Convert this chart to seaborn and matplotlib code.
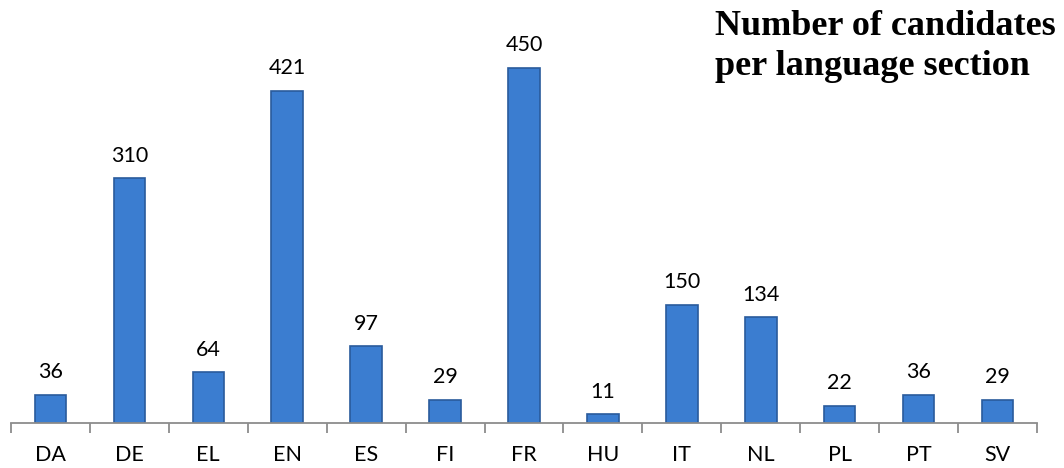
import matplotlib
matplotlib.use("Agg")
import matplotlib.pyplot as plt
import seaborn as sns
import pandas as pd
import numpy as np

# --- data ---
languages = ["DA", "DE", "EL", "EN", "ES", "FI", "FR", "HU", "IT", "NL", "PL", "PT", "SV"]
candidates = [36, 310, 64, 421, 97, 29, 450, 11, 150, 134, 22, 36, 29]
title_lines = ["Number of candidates", "per language section"]

df = pd.DataFrame({"language": languages, "candidates": candidates})

sns.set_style("white")
plt.rcParams["font.family"] = ["Lato", "DejaVu Sans"]
plt.rcParams["text.color"] = "black"
plt.rcParams["xtick.color"] = "black"

fig = plt.figure(figsize=(10.64, 4.68), dpi=100)
ax = fig.add_axes([11 / 1064, 45 / 468, 1026 / 1064, 423 / 468])

sns.barplot(data=df, x="language", y="candidates", color="#3b7dd0",
            width=0.40, edgecolor="#2a5b9c", linewidth=1.2, saturation=1, ax=ax)

# value labels above bars
for i, v in enumerate(candidates):
    ax.annotate(str(v), (i, v), xytext=(0, 12), textcoords="offset points",
                ha="center", va="baseline", fontsize=15.5, color="black")

ax.set_xlim(-0.5, len(languages) - 0.5)
ax.set_ylim(0, 536)
ax.set_xlabel("")
ax.set_ylabel("")
ax.set_yticks([])

for side in ["top", "right", "left"]:
    ax.spines[side].set_visible(False)
ax.spines["bottom"].set_color("#8c8c8c")
ax.spines["bottom"].set_linewidth(1.3)

# tick marks between categories
ax.set_xticks(np.arange(-0.5, len(languages)), minor=True)
ax.tick_params(axis="x", which="minor", bottom=True, length=7, width=1.3,
               color="#8c8c8c", direction="out")
ax.tick_params(axis="x", which="major", bottom=True, length=0, pad=16,
               labelsize=15.5, labelcolor="black")

for line, ypix in zip(title_lines, [35, 75]):
    fig.text(715 / 1064, 1 - ypix / 468, line, fontsize=26, fontweight="bold",
             family="Liberation Serif", color="black", ha="left", va="baseline")

fig.savefig("out.png", dpi=100)
